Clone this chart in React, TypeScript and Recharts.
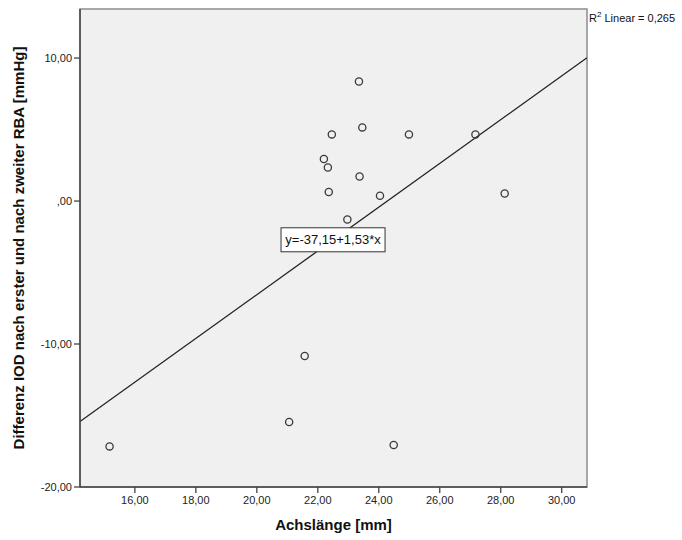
import React from "react";
import {
  ScatterChart,
  Scatter,
  XAxis,
  YAxis,
  ReferenceArea,
  ReferenceLine,
  ReferenceDot,
} from "recharts";

// Achslänge [mm] vs. Differenz IOD [mmHg]
const achslaenge = [
  23.35, 22.46, 23.46, 24.99, 22.2, 22.33, 23.37, 22.36, 24.04, 27.17, 28.13,
  22.97, 21.57, 21.06, 15.17, 24.49,
];
const differenz = [
  8.36, 4.66, 5.15, 4.66, 2.94, 2.35, 1.72, 0.63, 0.37, 4.66, 0.53, -1.29,
  -10.84, -15.45, -17.16, -17.06,
];
const xTicks = [16, 18, 20, 22, 24, 26, 28, 30];
const yTicks = [-20, -10, 0, 10];
const xDomain = [14.2, 30.83];
const yDomain = [-20, 13.43];
const intercept = -37.15;
const slope = 1.53;
const rSquared = "0,265";

const points = achslaenge.map((x, i) => ({ x, y: differenz[i] }));
const fit = (x: number) => intercept + slope * x;

const font = "'Liberation Sans', Arial, sans-serif";
const fmt = (v: number) =>
  v === 0 ? ",00" : v.toFixed(2).replace(".", ",");
const eqText = `y=${fmt(intercept)}+${fmt(slope)}*x`;

const OpenCircle = (props: any) => (
  <circle
    cx={props.cx}
    cy={props.cy}
    r={3.6}
    fill="none"
    stroke="#3a3a3a"
    strokeWidth={1.3}
  />
);

const EquationBox = (props: any) => {
  const w = 104;
  const h = 24;
  return (
    <g>
      <rect
        x={props.cx - w / 2}
        y={props.cy - h / 2}
        width={w}
        height={h}
        fill="#fff"
        stroke="#333"
        strokeWidth={1}
      />
      <text
        x={props.cx}
        y={props.cy + 4.5}
        textAnchor="middle"
        fontSize={13}
        fontFamily={font}
        fill="#111"
      >
        {eqText}
      </text>
    </g>
  );
};

export default function App() {
  return (
    <div style={{ position: "absolute", left: 0, top: 0, width: 682, height: 540 }}>
      <ScatterChart
        width={682}
        height={540}
        margin={{ top: 9, right: 95, bottom: 0, left: 0 }}
      >
        <ReferenceArea
          x1={xDomain[0]}
          x2={xDomain[1]}
          y1={yDomain[0]}
          y2={yDomain[1]}
          fill="#f0f0f0"
          fillOpacity={1}
          stroke="#8c8c8c"
          strokeWidth={1.5}
        />
        <XAxis
          type="number"
          dataKey="x"
          domain={xDomain}
          ticks={xTicks}
          allowDataOverflow
          tickFormatter={fmt}
          height={53}
          tickSize={6}
          tickMargin={3}
          tick={{ fontSize: 11, fill: "#222", fontFamily: font }}
          axisLine={{ stroke: "#444", strokeWidth: 1.5 }}
          tickLine={{ stroke: "#444", strokeWidth: 1.3 }}
          label={{
            content: (p: any) => (
              <text
                x={p.viewBox.x + p.viewBox.width / 2}
                y={530}
                textAnchor="middle"
                fontSize={15}
                fontWeight="bold"
                fontFamily={font}
                fill="#111"
              >
                Achslänge [mm]
              </text>
            ),
          }}
        />
        <YAxis
          type="number"
          dataKey="y"
          domain={yDomain}
          ticks={yTicks}
          allowDataOverflow
          tickFormatter={fmt}
          width={80}
          tickSize={6}
          tickMargin={2}
          tick={{ fontSize: 11, fill: "#222", fontFamily: font }}
          axisLine={{ stroke: "#444", strokeWidth: 1.5 }}
          tickLine={{ stroke: "#444", strokeWidth: 1.3 }}
          label={{
            content: (p: any) => {
              const cy = p.viewBox.y + p.viewBox.height / 2;
              return (
                <text
                  x={24}
                  y={cy}
                  transform={`rotate(-90 24 ${cy})`}
                  textAnchor="middle"
                  fontSize={15}
                  fontWeight="bold"
                  fontFamily={font}
                  fill="#111"
                >
                  Differenz IOD nach erster und nach zweiter RBA [mmHg]
                </text>
              );
            },
          }}
        />
        <ReferenceLine
          segment={[
            { x: xDomain[0], y: fit(xDomain[0]) },
            { x: xDomain[1], y: fit(xDomain[1]) },
          ]}
          stroke="#222"
          strokeWidth={1.3}
          ifOverflow="hidden"
        />
        <Scatter data={points} shape={<OpenCircle />} isAnimationActive={false} />
        <ReferenceDot x={22.5} y={-2.71} shape={<EquationBox />} />
      </ScatterChart>
      <div
        style={{
          position: "absolute",
          left: 589,
          top: 10,
          fontSize: 11,
          fontFamily: font,
          color: "#111",
          whiteSpace: "nowrap",
        }}
      >
        R<sup style={{ fontSize: 8 }}>2</sup> Linear = {rSquared}
      </div>
    </div>
  );
}
